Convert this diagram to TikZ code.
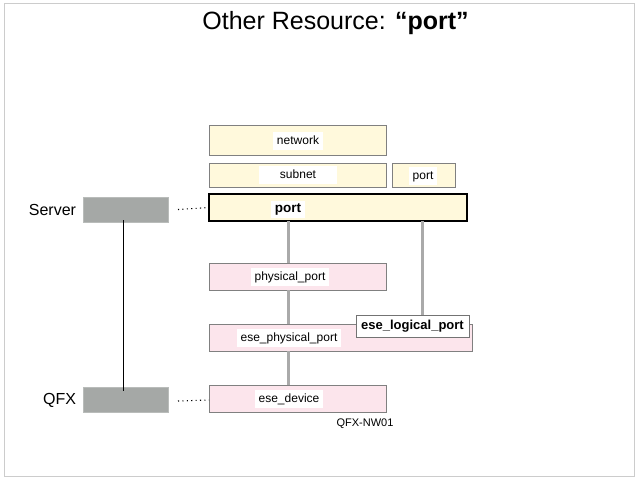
\documentclass[tikz,border=0pt]{standalone}
\usepackage{fontspec}
\setmainfont{Liberation Sans}
\begin{document}
\begin{tikzpicture}[x=1pt,y=-1pt,
  every node/.style={inner sep=0pt, outer sep=0pt},
  ybox/.style={draw=black!50, line width=0.9pt, fill={rgb,255:red,255;green,249;blue,220}},
  pbox/.style={draw=black!50, line width=0.9pt, fill={rgb,255:red,252;green,229;blue,236}},
  gbox/.style={fill={rgb,255:red,165;green,168;blue,166}, draw={rgb,255:red,185;green,188;blue,186}, line width=0.6pt},
  lbl/.style={fill=white, inner xsep=3.5pt, inner ysep=3pt, font=\fontsize{12}{13}\selectfont, text height=8.8pt, text depth=2.6pt},
  conn/.style={draw={rgb,255:red,170;green,170;blue,170}, line width=3pt},
  dots/.style={line width=1.1pt, dash pattern=on 1.1pt off 3.3pt},
  side/.style={font=\fontsize{16}{18}\selectfont}]
\useasboundingbox (0,0) rectangle (640,480);
% slide frame
\draw[black!20, line width=1.2pt] (4.5,3.5) rectangle (634.5,476.5);
% title
\node (title) at (335.5,23) {\fontsize{25}{29}\selectfont Other Resource: \textbf{“port”}};
% yellow boxes
\node[ybox, minimum width=177pt, minimum height=30pt] (network) at (297.5,140) {};
\node[lbl] (networklbl) at (298,141) {network};
\node[ybox, minimum width=177pt, minimum height=24pt] (subnet) at (297.5,175) {};
\node[lbl, minimum width=78pt] (subnetlbl) at (298,175) {subnet};
\node[ybox, minimum width=63pt, minimum height=24pt] (sport) at (423.5,175) {};
\node[lbl] (sportlbl) at (423,176) {port};
\node[ybox, draw=black, line width=2.6pt, minimum width=258pt, minimum height=27pt] (port) at (338,207.5) {};
\node[lbl, font=\fontsize{13.5}{14}\selectfont\bfseries] (portlbl) at (288,209.5) {port};
% pink boxes
\node[pbox, minimum width=177pt, minimum height=27pt] (phys) at (297.5,276.5) {};
\node[lbl] (physlbl) at (290,277) {physical\_port};
\node[pbox, minimum width=263pt, minimum height=27pt] (ephys) at (340.5,337.5) {};
\node[lbl] (ephyslbl) at (289,338) {ese\_physical\_port};
\node[draw=black!55, line width=0.9pt, fill=white, minimum width=113pt, minimum height=22pt, font=\fontsize{13}{14}\selectfont\bfseries] (elog) at (412.5,326) {ese\_logical\_port};
\node[pbox, minimum width=177pt, minimum height=27pt] (edev) at (297.5,398.5) {};
\node[lbl] (edevlbl) at (289,399) {ese\_device};
\node[font=\fontsize{11}{12}\selectfont] (qfxnw) at (365,424) {QFX-NW01};
% connectors
\draw[conn] (portlbl |- port.south) -- (portlbl |- phys.north);
\draw[conn] (portlbl |- phys.south) -- (portlbl |- ephys.north);
\draw[conn] (portlbl |- ephys.south) -- (portlbl |- edev.north);
\draw[conn] ([xshift=9.5pt]elog.north) -- ([xshift=9.5pt]elog.north |- port.south);
% left side
\node[gbox, minimum width=85pt, minimum height=25pt] (server) at (125.5,209.5) {};
\node[side, anchor=east] (serverlbl) at (76,209.5) {Server};
\node[gbox, minimum width=85pt, minimum height=25pt] (qfx) at (125.5,399.5) {};
\node[side, anchor=east] (qfxlbl) at (76,400) {QFX};
\draw[black, line width=1pt] ([xshift=-2.5pt,yshift=2pt]server.south) -- ([xshift=-2.5pt,yshift=-4pt]qfx.north);
\draw[dots] ([xshift=10pt]server.east) -- (port.west);
\draw[dots] ([xshift=10pt,yshift=-1.5pt]qfx.east) -- ([yshift=-1.5pt]edev.west);
\end{tikzpicture}
\end{document}
